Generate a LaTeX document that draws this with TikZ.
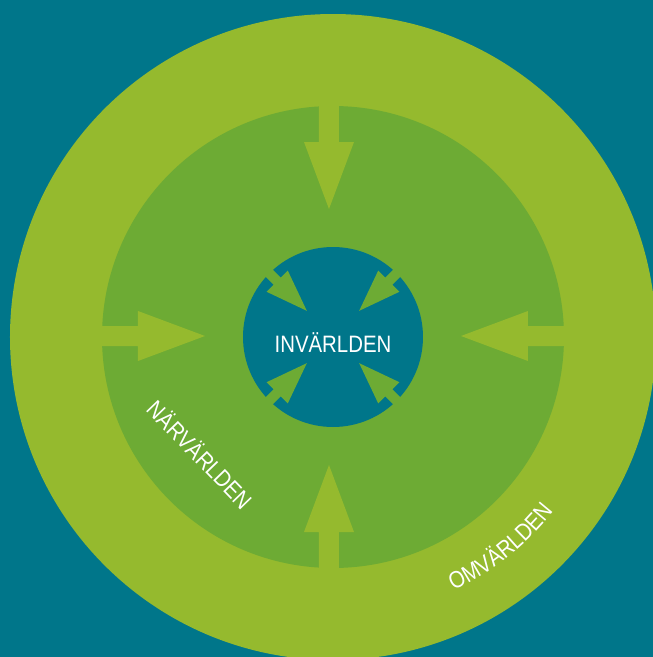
\documentclass[tikz,border=0pt]{standalone}
\usepackage{fontspec}
\newfontfamily\labelfont[FakeStretch=0.86]{Liberation Sans}
\newcommand{\wfont}{\labelfont\fontsize{13.5}{16}\selectfont}
\usetikzlibrary{decorations.text}
\definecolor{tealbg}{HTML}{00768A}
\definecolor{lightgreen}{HTML}{95BA2E}
\definecolor{midgreen}{HTML}{6DAB34}

\begin{document}
\begin{tikzpicture}[x=0.02cm,y=0.02cm]
      \useasboundingbox (-333,-320) rectangle (320,337);
      \tikzset{L/.style = {text=white, font=\wfont, inner sep=0pt}}
      \clip (-333,-320) rectangle (320,337);
      \fill[tealbg] (-333,-320) rectangle (320,337);
      \fill[lightgreen] (0,0) circle (323);
      \fill[midgreen] (0,0) circle (231);
      % arrows from the outer ring
      \foreach \a/\dx/\dy in {90/-4/0, 270/-4/0, 180/0/1, 0/0/1}
        \fill[lightgreen, shift={(\dx,\dy)}, rotate=\a] (128,0) -- (195,25) -- (195,10) -- (240,10)
          -- (240,-10) -- (195,-10) -- (195,-25) -- cycle;
      \fill[tealbg] (0,0) circle (90);
      % arrows into the inner circle
      \foreach \a in {45,135,225,315}
        \fill[midgreen, rotate=\a] (37,0) -- (79,15) -- (79,5) -- (100,5)
          -- (100,-5) -- (79,-5) -- (79,-15) -- cycle;
      \node[L, anchor=base](inv) at (0,-15) {INVÄRLDEN};
      \node[L, rotate=-46](nar) at (-132,-117) {NÄRVÄRLDEN};
      \path[decorate, decoration={text along path, text={|\wfont|OMVÄRLDEN},
        text color=white, text align=center}] (-81.4:281) arc[start angle=-81.4, end angle=-21.4, radius=281];
    \end{tikzpicture}
\end{document}
